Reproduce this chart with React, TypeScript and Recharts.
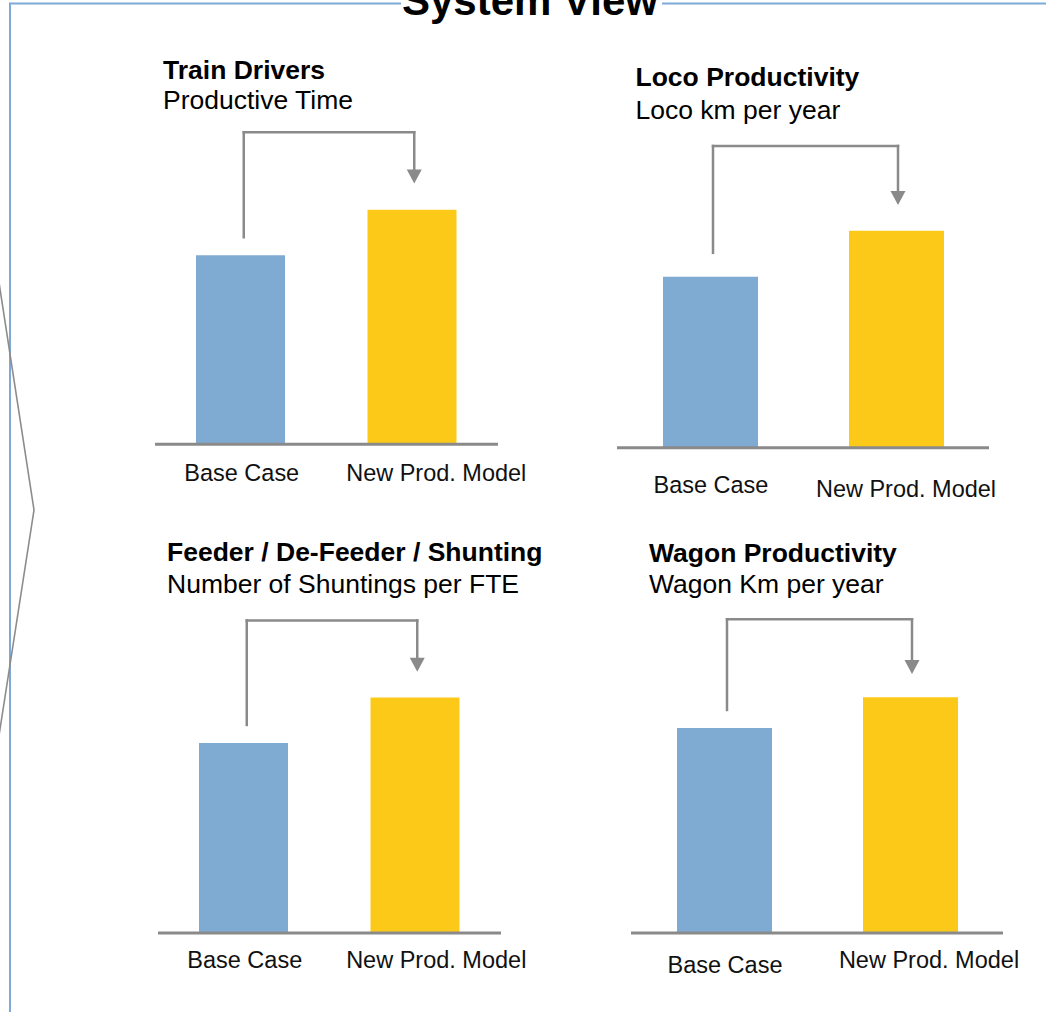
import React from 'react';
import { BarChart, Bar, Cell, XAxis, YAxis, ReferenceLine } from 'recharts';

const categories = ['Base Case', 'New Prod. Model'];

// index values, Base Case = 100
const trainDrivers = [100, 124];
const locoProductivity = [100, 127];
const shunting = [100, 124];
const wagonProductivity = [100, 115];

// arrow levels in the same units: [start above base bar, bracket top, arrow tip]
const trainArrow = [109.5, 165, 138];
const locoArrow = [114, 176.5, 142];
const shuntingArrow = [109.5, 164.5, 137.5];
const wagonArrow = [108.8, 153, 126.3];

const panelTitles = ['Train Drivers', 'Loco Productivity', 'Feeder / De-Feeder / Shunting', 'Wagon Productivity'];
const panelSubtitles = ['Productive Time', 'Loco km per year', 'Number of Shuntings per FTE', 'Wagon Km per year'];

const COLORS = ['#7FAAD2', '#FDC918'];
const GRAY = '#8A8A8A';
const FONT = '"Liberation Sans", Arial, Helvetica, sans-serif';
const Y_MAX = 180;
const EXTRA = 70; // room right of the plot for the long tick label

const panels = [
  { values: trainDrivers, arrow: trainArrow, left: 155, width: 343, baseline: 444, ppu: 1.89, barSize: 89, titleX: 163, titleY: 78.5, subY: 109, tick: [[1, 37], [24, 37]] },
  { values: locoProductivity, arrow: locoArrow, left: 617, width: 372, baseline: 448, ppu: 1.71, barSize: 95, titleX: 635.5, titleY: 86.4, subY: 119.3, tick: [[1, 45], [10, 49]] },
  { values: shunting, arrow: shuntingArrow, left: 158, width: 343, baseline: 933, ppu: 1.9, barSize: 89, titleX: 167, titleY: 560.5, subY: 592.7, tick: [[1, 35], [21, 35]] },
  { values: wagonProductivity, arrow: wagonArrow, left: 631, width: 372, baseline: 933, ppu: 2.05, barSize: 95, titleX: 649, titleY: 562, subY: 593.3, tick: [[1, 40], [19, 35]] },
];

const ArrowDown = (props: any) => {
  const { x1, y1, x2, y2 } = props;
  const head = 14;
  return (
    <g>
      <line x1={x1 + 2} y1={y1} x2={x2 + 2} y2={y2 - head + 1} stroke={GRAY} strokeWidth={2.5} strokeLinecap="square" />
      <polygon points={`${x2 + 2 - 7.5},${y2 - head} ${x2 + 2 + 7.5},${y2 - head} ${x2 + 2},${y2}`} fill={GRAY} />
    </g>
  );
};

const Panel = ({ cfg }: { cfg: any }) => {
  const data = categories.map((name, i) => ({ name, value: cfg.values[i] }));
  const plotH = Y_MAX * cfg.ppu;
  const axisH = 60;
  const [start, top, tip] = cfg.arrow;

  const renderTick = (p: any) => {
    const [dx, dy] = cfg.tick[p.index] || [0, 36];
    return (
      <text x={p.x + dx} y={p.y + dy} textAnchor="middle" fontSize={23.5} fontFamily={FONT} fill="#111">
        {p.payload.value}
      </text>
    );
  };

  return (
    <div style={{ position: 'absolute', left: cfg.left, top: cfg.baseline - plotH }}>
      <BarChart width={cfg.width + EXTRA} height={plotH + axisH} data={data} margin={{ top: 0, right: EXTRA, bottom: 0, left: 0 }}>
        <XAxis
          dataKey="name"
          height={axisH}
          interval={0}
          tickLine={false}
          tickSize={0}
          tickMargin={0}
          axisLine={{ stroke: GRAY, strokeWidth: 3 }}
          tick={renderTick}
        />
        <YAxis hide domain={[0, Y_MAX]} />
        <Bar dataKey="value" barSize={cfg.barSize} isAnimationActive={false}>
          {data.map((d, i) => (
            <Cell key={d.name} fill={COLORS[i]} />
          ))}
        </Bar>
        <ReferenceLine
          segment={[{ x: categories[0], y: start }, { x: categories[0], y: top }]}
          stroke={GRAY}
          strokeWidth={2.5}
          strokeLinecap="square"
          transform="translate(3,0)"
        />
        <ReferenceLine
          segment={[{ x: categories[0], y: top }, { x: categories[1], y: top }]}
          stroke={GRAY}
          strokeWidth={2.5}
          strokeLinecap="square"
          shape={(p: any) => (
            <line x1={p.x1 + 3} y1={p.y1} x2={p.x2 + 2} y2={p.y2} stroke={GRAY} strokeWidth={2.5} strokeLinecap="square" />
          )}
        />
        <ReferenceLine
          segment={[{ x: categories[1], y: top }, { x: categories[1], y: tip }]}
          shape={ArrowDown}
        />
      </BarChart>
    </div>
  );
};

export default function App() {
  return (
    <div style={{ position: 'absolute', left: 0, top: 0, width: 1046, height: 1012, overflow: 'hidden', background: '#fff' }}>
      <svg width={1046} height={1012} style={{ position: 'absolute', left: 0, top: 0 }}>
        {/* frame */}
        <polyline points="401,3.5 10,3.5 10,1012" fill="none" stroke="#7FA9D6" strokeWidth={2} />
        <line x1={662} y1={3.5} x2={1046} y2={3.5} stroke="#7FA9D6" strokeWidth={2} />
        {/* chevron */}
        <polyline points="-2,276 34,510 -2,742" fill="none" stroke="#8C8C8C" strokeWidth={1.6} />
        <text x={530} y={15} textAnchor="middle" fontSize={42} fontWeight="bold" fontFamily={FONT} fill="#000">
          System View
        </text>
        {panels.map((p, i) => (
          <g key={i} fontFamily={FONT} fill="#000">
            <text x={p.titleX} y={p.titleY} fontSize={26.5} fontWeight="bold">{panelTitles[i]}</text>
            <text x={p.titleX} y={p.subY} fontSize={26.5}>{panelSubtitles[i]}</text>
          </g>
        ))}
      </svg>
      {panels.map((p, i) => (
        <Panel key={i} cfg={p} />
      ))}
    </div>
  );
}
